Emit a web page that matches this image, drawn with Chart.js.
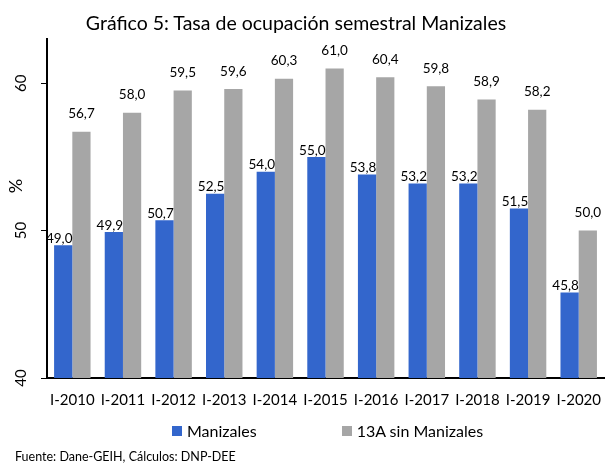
<!DOCTYPE html>
<html>
<head>
<meta charset="utf-8">
<script src="https://cdn.jsdelivr.net/npm/chart.js@4"></script>
<style>
  html, body { margin: 0; padding: 0; background: #fff; }
  body { width: 606px; height: 465px; position: relative; overflow: hidden; font-family: Lato, sans-serif; color: #000; }
  #wrap { position: absolute; left: 0; top: 0; width: 606px; height: 465px; }
  #title { position: absolute; left: 0; width: 592px; top: 10px; line-height: 26px; text-align: center; font-size: 19.5px; white-space: nowrap; }
  #legend { position: absolute; top: 421px; left: 172px; font-size: 16px; line-height: 20px; display: flex; align-items: center; white-space: nowrap; }
  #legend .item { display: flex; align-items: center; }
  #legend .box { width: 10px; height: 10px; margin-right: 5px; }
  #footer { position: absolute; left: 15px; top: 449px; font-size: 12.5px; line-height: 16px; white-space: nowrap; }
</style>
</head>
<body>
<div id="wrap"><canvas id="chart" width="606" height="465"></canvas></div>
<div id="title">Gráfico 5: Tasa de ocupación semestral Manizales</div>
<div id="legend"></div>
<div id="footer">Fuente: Dane-GEIH, Cálculos: DNP-DEE</div>
<script>
const categories = ['I-2010', 'I-2011', 'I-2012', 'I-2013', 'I-2014', 'I-2015', 'I-2016', 'I-2017', 'I-2018', 'I-2019', 'I-2020'];
const manizales = [49.0, 49.9, 50.7, 52.5, 54.0, 55.0, 53.8, 53.2, 53.2, 51.5, 45.8];
const sinManizales = [56.7, 58.0, 59.5, 59.6, 60.3, 61.0, 60.4, 59.8, 58.9, 58.2, 50.0];
const yTicks = [40, 50, 60];

const BLUE = '#3366cc';
const GRAY = '#a6a6a6';
const FONT = 'Lato, sans-serif';

// legend drawn as html, spaced like the original
const legendItems = [
    { text: 'Manizales', color: BLUE, gap: 85 },
    { text: '13A sin Manizales', color: GRAY, gap: 0 }
];
const legendEl = document.getElementById('legend');
legendItems.forEach(it => {
    const el = document.createElement('div');
    el.className = 'item';
    el.style.marginRight = it.gap + 'px';
    el.innerHTML = `<span class="box" style="background:${it.color}"></span><span>${it.text}</span>`;
    legendEl.appendChild(el);
});

// value labels above each bar
const valueLabels = {
    id: 'valueLabels',
    afterDatasetsDraw(chart) {
        const { ctx } = chart;
        ctx.save();
        ctx.font = '13.5px ' + FONT;
        ctx.fillStyle = '#000';
        ctx.textAlign = 'center';
        ctx.textBaseline = 'bottom';
        chart.data.datasets.forEach((ds, i) => {
            const meta = chart.getDatasetMeta(i);
            const lift = i === 0 ? 0 : 11;
            const dx = i === 0 ? -4 : 0;
            meta.data.forEach((bar, j) => {
                const txt = ds.data[j].toFixed(1).replace('.', ',');
                ctx.fillText(txt, bar.x + dx, bar.y - lift);
            });
        });
        ctx.restore();
    }
};

// the "%" axis title sits above the middle in the original, so draw it here
const unitLabel = {
    id: 'unitLabel',
    afterDraw(chart) {
        const { ctx } = chart;
        ctx.save();
        ctx.translate(16, 186);
        ctx.rotate(-Math.PI / 2);
        ctx.font = '18px ' + FONT;
        ctx.fillStyle = '#000';
        ctx.textAlign = 'center';
        ctx.textBaseline = 'middle';
        ctx.fillText('%', 0, 0);
        ctx.restore();
    }
};

new Chart(document.getElementById('chart'), {
    type: 'bar',
    data: {
        labels: categories,
        datasets: [
            { label: 'Manizales', data: manizales, backgroundColor: BLUE },
            { label: '13A sin Manizales', data: sinManizales, backgroundColor: GRAY }
        ]
    },
    options: {
        responsive: false,
        animation: false,
        layout: { padding: { top: 39, right: -2, bottom: 51, left: 4 } },
        datasets: { bar: { categoryPercentage: 0.72, barPercentage: 1 } },
        plugins: {
            legend: { display: false },
            tooltip: { enabled: false },
            title: { display: false }
        },
        scales: {
            x: {
                grid: { display: false },
                border: { display: true, color: '#000', width: 2 },
                ticks: { color: '#000', font: { family: FONT, size: 15 }, padding: 5, maxRotation: 0, minRotation: 0, autoSkip: false }
            },
            y: {
                min: 40,
                max: 63,
                afterBuildTicks: s => { s.ticks = yTicks.map(v => ({ value: v })); },
                afterFit: s => { s.width = 43; },
                grid: { drawOnChartArea: false, drawTicks: true, tickLength: 6, color: '#000', tickWidth: 1 },
                border: { display: true, color: '#000', width: 2 },
                ticks: { color: '#000', font: { family: FONT, size: 15 }, minRotation: 90, maxRotation: 90, crossAlign: 'center', padding: 11 }
            }
        }
    },
    plugins: [valueLabels, unitLabel]
});
</script>
</body>
</html>
